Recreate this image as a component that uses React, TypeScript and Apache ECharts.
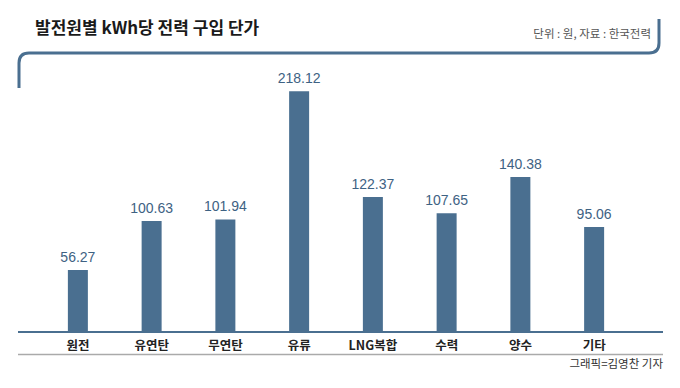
import React, { useEffect, useRef } from "react";
import * as echarts from "echarts";

const categories = ["원전", "유연탄", "무연탄", "유류", "LNG복합", "수력", "양수", "기타"];
const prices = [56.27, 100.63, 101.94, 218.12, 122.37, 107.65, 140.38, 95.06];
const titleText = "발전원별 kWh당 전력 구입 단가";
const unitText = "단위 : 원, 자료 : 한국전력";
const creditText = "그래픽=김영찬 기자";

const FONT = "'Noto Sans CJK KR', 'Noto Sans', sans-serif";
const BLUE = "#4a6f90";

echarts.graphic.registerShape(
  "frameLine",
  echarts.graphic.extendPath(
    "M 19 88 L 19 63 Q 19 53 29 53 L 649 53 Q 659 53 659 43 L 659 19",
    {}
  )
);

export default function App() {
  const ref = useRef<HTMLDivElement>(null);
  useEffect(() => {
    if (!ref.current) return;
    const chart = echarts.init(ref.current, null, { renderer: "svg" });
    chart.setOption({
      animation: false,
      backgroundColor: "#ffffff",
      grid: { left: 41, right: 49, top: 56, bottom: 56 },
      xAxis: {
        type: "category",
        data: categories,
        axisLine: { show: false },
        axisTick: { show: false },
        axisLabel: {
          margin: 6,
          fontSize: 12.5,
          fontWeight: "bold",
          color: "#222",
          fontFamily: FONT,
        },
      },
      yAxis: { type: "value", min: 0, max: 250, show: false, splitLine: { show: false } },
      series: [
        {
          type: "bar",
          data: prices,
          barWidth: 20,
          itemStyle: { color: BLUE },
          label: {
            show: true,
            position: "top",
            distance: 6,
            fontSize: 14,
            color: "#3e6283",
            fontFamily: "'Liberation Sans', Arial, sans-serif",
            formatter: (p: any) => p.value.toFixed(2),
          },
        },
      ],
      graphic: [
        {
          type: "text",
          left: 35,
          top: 18,
          style: {
            text: titleText,
            fontSize: 17,
            fontWeight: "bold",
            fill: "#1a1a1a",
            fontFamily: FONT,
          },
        },
        {
          type: "text",
          right: 29,
          top: 27,
          style: {
            text: unitText,
            fontSize: 11.5,
            fill: "#555",
            fontFamily: FONT,
          },
        },
        {
          type: "frameLine",
          x: 0,
          y: 0,
          style: { stroke: BLUE, lineWidth: 3, fill: "none" },
        },
        {
          type: "line",
          z: 10,
          shape: { x1: 18, y1: 332, x2: 663, y2: 332 },
          style: { stroke: BLUE, lineWidth: 2 },
        },
        {
          type: "line",
          shape: { x1: 18, y1: 354.5, x2: 663, y2: 354.5 },
          style: { stroke: "#aaaaaa", lineWidth: 1.5 },
        },
        {
          type: "text",
          right: 17,
          top: 357,
          style: {
            text: creditText,
            fontSize: 11.5,
            fill: "#333",
            fontFamily: FONT,
          },
        },
      ],
    });
    return () => chart.dispose();
  }, []);
  return <div ref={ref} style={{ width: 680, height: 388, position: "absolute", left: 0, top: 0 }} />;
}
